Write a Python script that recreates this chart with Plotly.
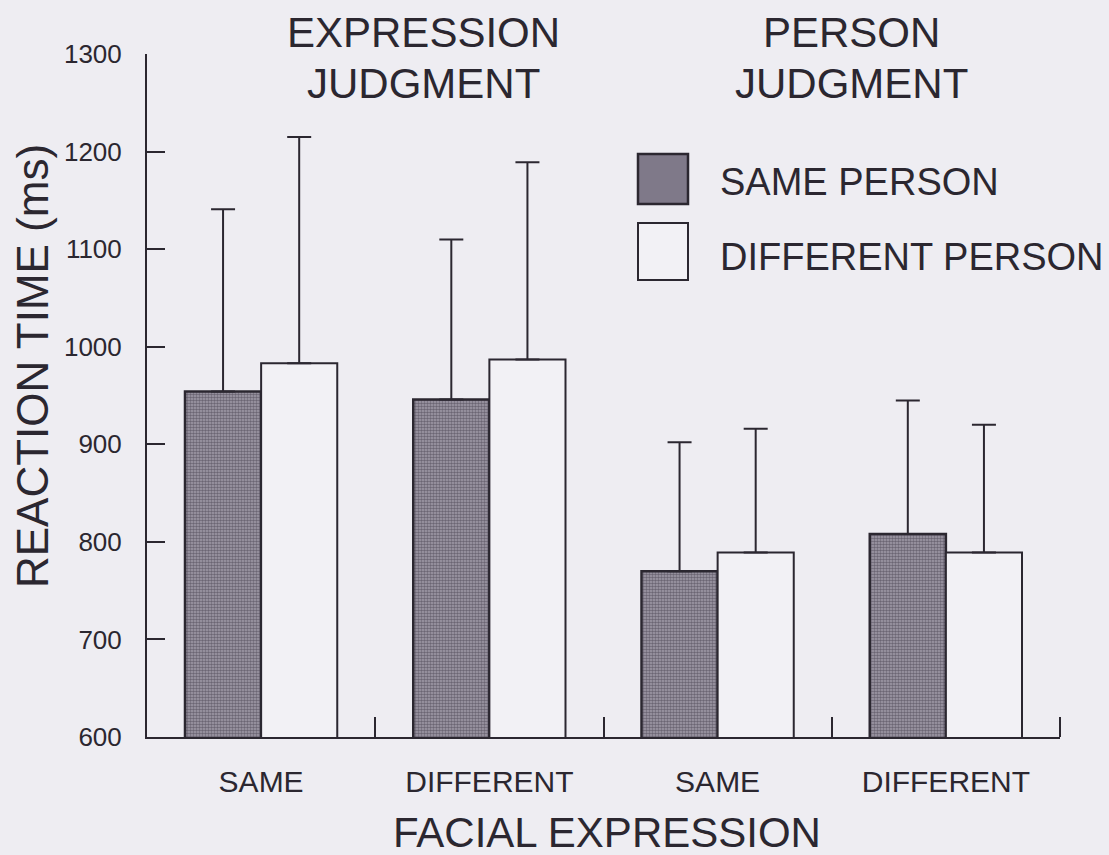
import plotly.graph_objects as go

# ---- data ----
categories = ["SAME", "DIFFERENT", "SAME ", "DIFFERENT "]
tick_labels = ["SAME", "DIFFERENT", "SAME", "DIFFERENT"]
same_person_rt = [954, 946, 770, 808]
same_person_sd = [187, 164, 132, 137]
diff_person_rt = [983, 987, 789, 789]
diff_person_sd = [232, 202, 127, 131]
y_ticks = [600, 700, 800, 900, 1000, 1100, 1200, 1300]

# ---- layout geometry ----
W, H = 1109, 855
L, R, T, B = 147, 49, 54, 118
BG = "#eeedf2"
INK = "#2b2730"
GRAY = "#7f7989"
FONT = "Liberation Sans, Arial, Helvetica, sans-serif"


def px(x):
    return (x - L) / (W - L - R)


def py(y):
    return 1 - (y - T) / (H - T - B)


fig = go.Figure()
fig.add_trace(go.Bar(
    x=categories, y=same_person_rt, name="SAME PERSON",
    marker=dict(color=GRAY,
                pattern=dict(shape=".", fgcolor="#332d3b", bgcolor="#a39eab",
                             size=3, solidity=0.55, fillmode="overlay"),
                line=dict(color=INK, width=2.5)),
    error_y=dict(type="data", symmetric=False, array=same_person_sd,
                 arrayminus=[0] * len(same_person_sd),
                 color=INK, thickness=2, width=12),
))
fig.add_trace(go.Bar(
    x=categories, y=diff_person_rt, name="DIFFERENT PERSON",
    marker=dict(color="#f2f1f5", line=dict(color=INK, width=2)),
    error_y=dict(type="data", symmetric=False, array=diff_person_sd,
                 arrayminus=[0] * len(diff_person_sd),
                 color=INK, thickness=2, width=12),
))

fig.update_layout(
    width=W, height=H,
    margin=dict(l=L, r=R, t=T, b=B, autoexpand=False),
    paper_bgcolor=BG, plot_bgcolor=BG,
    barmode="group", bargap=0.333, bargroupgap=0,
    showlegend=False,
    font=dict(family=FONT, color=INK),
)
fig.update_xaxes(
    type="category", range=[-0.5, 3.5],
    tickmode="array", tickvals=categories, ticktext=tick_labels,
    tickson="boundaries", ticks="inside", ticklen=20, tickwidth=2, tickcolor=INK,
    showline=True, linewidth=2, linecolor=INK, showgrid=False,
    tickfont=dict(size=30, family=FONT, color=INK), ticklabelstandoff=17,
)
fig.update_yaxes(
    range=[600, 1300], tickvals=y_ticks,
    ticks="inside", ticklen=18, tickwidth=2, tickcolor=INK,
    showline=True, linewidth=2, linecolor=INK, showgrid=False, zeroline=False,
    tickfont=dict(size=26, family=FONT, color=INK), ticklabelstandoff=18,
)

# closing boundary tick at the right end of the x axis
fig.add_shape(type="line", xref="paper", yref="paper",
              x0=1, x1=1, y0=0, y1=20 / (H - T - B),
              line=dict(color=INK, width=2))

ann = [
    dict(text="EXPRESSION", x=px(423), y=py(33), size=42),
    dict(text="JUDGMENT", x=px(423), y=py(83), size=42),
    dict(text="PERSON", x=px(851), y=py(33), size=42),
    dict(text="JUDGMENT", x=px(851), y=py(83), size=42),
    dict(text="FACIAL EXPRESSION", x=px(607), y=py(832), size=42),
]
for a in ann:
    fig.add_annotation(text=a["text"], x=a["x"], y=a["y"], xref="paper", yref="paper",
                       showarrow=False, xanchor="center", yanchor="middle",
                       font=dict(size=a["size"], family=FONT, color=INK))

fig.add_annotation(text="REACTION TIME (ms)", x=px(32), y=py(366), xref="paper", yref="paper",
                   showarrow=False, textangle=-90, xanchor="center", yanchor="middle",
                   font=dict(size=44, family=FONT, color=INK))

# legend
fig.add_shape(type="rect", xref="paper", yref="paper",
              x0=px(638), x1=px(688), y0=py(204), y1=py(154),
              fillcolor=GRAY, line=dict(color=INK, width=2.5))
fig.add_shape(type="rect", xref="paper", yref="paper",
              x0=px(638), x1=px(688), y0=py(280), y1=py(223),
              fillcolor="#f2f1f5", line=dict(color=INK, width=2))
fig.add_annotation(text="SAME PERSON", x=px(718), y=py(182), xref="paper", yref="paper",
                   showarrow=False, xanchor="left", yanchor="middle",
                   font=dict(size=38, family=FONT, color=INK))
fig.add_annotation(text="DIFFERENT PERSON", x=px(718), y=py(257), xref="paper", yref="paper",
                   showarrow=False, xanchor="left", yanchor="middle",
                   font=dict(size=38, family=FONT, color=INK))

fig.write_html("out.html", config={"displayModeBar": False},
               post_script="document.body.style.margin='0px';document.body.style.background='" + BG + "';")
